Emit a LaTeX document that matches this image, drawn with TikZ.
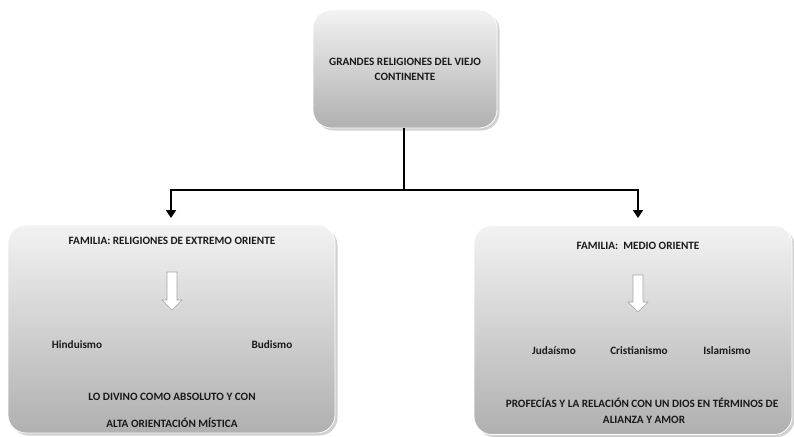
\documentclass[tikz,border=0pt]{standalone}
\usepackage{fontspec}
\setmainfont{Carlito}
\usetikzlibrary{shadows,arrows.meta}
\begin{document}
\begin{tikzpicture}[x=1pt,y=-1pt,
  box/.style={rectangle, rounded corners=18pt, draw=white, line width=0.8pt,
    top color=gray!10, bottom color=gray!62,
    drop shadow={shadow xshift=2.5pt, shadow yshift=-2.5pt, opacity=0.45, fill=gray!80}},
  lbl/.style={font=\fontsize{11.2}{15}\selectfont\bfseries, text=black!90, inner sep=0pt, align=center},
  barrow/.style={draw=gray!70, fill=white, line width=0.6pt, line join=miter},
  conn/.style={line width=2pt, black},
  tip/.style={-{Triangle[length=8pt,width=10pt]}}
]
\useasboundingbox (0,0) rectangle (794,436);
\fill[white] (0,0) rectangle (794,436);

\node[box, minimum width=184pt, minimum height=118pt] (top) at (405,69) {};
\node[box, minimum width=327pt, minimum height=208pt] (left) at (171.5,329) {};
\node[box, minimum width=318pt, minimum height=209pt] (right) at (633,330) {};

\node[lbl] (toptxt) at (405,69.5) {GRANDES RELIGIONES DEL VIEJO\\CONTINENTE};

\coordinate (j) at (404,190);
\coordinate (la) at (171,218);
\coordinate (ra) at (638,218);
\draw[conn] (top.south -| j) -- (j);
\draw[conn,tip] (j) -| (la);
\draw[conn,tip] (j) -| (ra);

% left box
\node[lbl] (lt) at (172,241) {FAMILIA: RELIGIONES DE EXTREMO ORIENTE};
\draw[barrow] (167,272) -- (177,272) -- (177,300) -- (182,300) -- (172,310)
  -- (162,300) -- (167,300) -- cycle;
\node[lbl] (hin) at (77,345) {Hinduismo};
\node[lbl] (bud) at (272,345) {Budismo};
\node[lbl] (l1) at (172,397) {LO DIVINO COMO ABSOLUTO Y CON};
\node[lbl] (l2) at (172,423) {ALTA ORIENTACIÓN MÍSTICA};

% right box
\node[lbl] (rt) at (638,246) {FAMILIA:\ \ MEDIO ORIENTE};
\draw[barrow] (633,275) -- (643,275) -- (643,302) -- (648,302) -- (638,312)
  -- (628,302) -- (633,302) -- cycle;
\node[lbl] (jud) at (554,351) {Judaísmo};
\node[lbl] (cri) at (639,351) {Cristianismo};
\node[lbl] (isl) at (727,351) {Islamismo};
\node[lbl] (r1) at (642,403) {PROFECÍAS Y LA RELACIÓN CON UN DIOS EN TÉRMINOS DE};
\node[lbl] (r2) at (644,420) {ALIANZA Y AMOR};
\end{tikzpicture}
\end{document}
